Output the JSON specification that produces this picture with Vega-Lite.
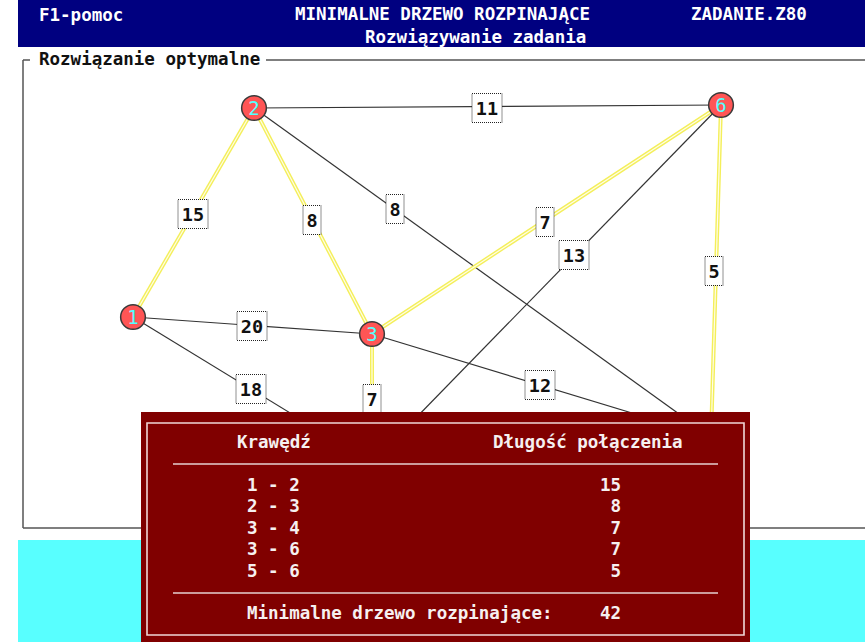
{
  "$schema": "https://vega.github.io/schema/vega-lite/v6.json",
  "width": 865,
  "height": 642,
  "autosize": "none",
  "padding": 0,
  "background": "white",
  "config": {"view": {"stroke": null}},
  "datasets": {
    "header": [{"x": 18, "x2": 865, "y": 0, "y2": 47}],
    "frame": [
      {"x": 23, "y": 60, "x2": 23, "y2": 528},
      {"x": 23, "y": 528, "x2": 865, "y2": 528},
      {"x": 23, "y": 60, "x2": 30, "y2": 60},
      {"x": 266, "y": 60, "x2": 865, "y2": 60}
    ],
    "edges": [
      {"a": 1, "b": 2, "w": 15, "mst": true, "x": 133, "y": 317, "x2": 254, "y2": 108, "lx": 193, "ly": 214},
      {"a": 1, "b": 3, "w": 20, "mst": false, "x": 133, "y": 317, "x2": 372, "y2": 334, "lx": 252, "ly": 326},
      {"a": 1, "b": 4, "w": 18, "mst": false, "x": 133, "y": 317, "x2": 372, "y2": 463, "lx": 251, "ly": 389},
      {"a": 2, "b": 3, "w": 8, "mst": true, "x": 254, "y": 108, "x2": 372, "y2": 334, "lx": 312, "ly": 220},
      {"a": 2, "b": 6, "w": 11, "mst": false, "x": 254, "y": 108, "x2": 721, "y2": 105, "lx": 487, "ly": 108},
      {"a": 2, "b": 5, "w": 8, "mst": false, "x": 254, "y": 108, "x2": 711, "y2": 437, "lx": 395, "ly": 209},
      {"a": 3, "b": 6, "w": 7, "mst": true, "x": 372, "y": 334, "x2": 721, "y2": 105, "lx": 545, "ly": 222},
      {"a": 3, "b": 4, "w": 7, "mst": true, "x": 372, "y": 334, "x2": 372, "y2": 463, "lx": 372, "ly": 399},
      {"a": 3, "b": 5, "w": 12, "mst": false, "x": 372, "y": 334, "x2": 711, "y2": 437, "lx": 540, "ly": 385},
      {"a": 4, "b": 6, "w": 13, "mst": false, "x": 372, "y": 463, "x2": 721, "y2": 105, "lx": 574, "ly": 255},
      {"a": 5, "b": 6, "w": 5, "mst": true, "x": 711, "y": 437, "x2": 721, "y2": 105, "lx": 714, "ly": 271}
    ],
    "nodes": [
      {"id": "1", "x": 133, "y": 317},
      {"id": "2", "x": 254, "y": 108},
      {"id": "3", "x": 372, "y": 334},
      {"id": "4", "x": 372, "y": 463},
      {"id": "5", "x": 711, "y": 437},
      {"id": "6", "x": 721, "y": 105}
    ],
    "cyan": [{"x": 18, "x2": 865, "y": 540, "y2": 642}],
    "dialog": [{"x": 141, "x2": 750, "y": 412, "y2": 642}],
    "dialogBorder": [{"x": 147, "x2": 744, "y": 423, "y2": 635}],
    "dialogRules": [
      {"x": 173, "x2": 718, "y": 464, "y2": 464},
      {"x": 173, "x2": 718, "y": 593, "y2": 593}
    ],
    "headerText": [
      {"x": 39, "y": 16, "t": "F1-pomoc"},
      {"x": 295, "y": 15, "t": "MINIMALNE DRZEWO ROZPINAJĄCE"},
      {"x": 691, "y": 15, "t": "ZADANIE.Z80"},
      {"x": 365, "y": 38, "t": "Rozwiązywanie zadania"}
    ],
    "frameTitle": [{"x": 39, "y": 60, "t": "Rozwiązanie optymalne"}],
    "dialogLeft": [
      {"x": 237, "y": 443, "t": "Krawędź"},
      {"x": 493, "y": 443, "t": "Długość połączenia"},
      {"x": 247, "y": 486, "t": "1 - 2"},
      {"x": 247, "y": 507, "t": "2 - 3"},
      {"x": 247, "y": 529, "t": "3 - 4"},
      {"x": 247, "y": 550, "t": "3 - 6"},
      {"x": 247, "y": 572, "t": "5 - 6"},
      {"x": 247, "y": 614, "t": "Minimalne drzewo rozpinające:"}
    ],
    "dialogRight": [
      {"x": 621, "y": 486, "t": "15"},
      {"x": 621, "y": 507, "t": "8"},
      {"x": 621, "y": 529, "t": "7"},
      {"x": 621, "y": 550, "t": "7"},
      {"x": 621, "y": 572, "t": "5"},
      {"x": 621, "y": 614, "t": "42"}
    ]
  },
  "layer": [
    {
      "data": {"name": "header"},
      "mark": {"type": "rect", "fill": "#000080"},
      "encoding": {
        "x": {"field": "x", "type": "quantitative", "scale": {"domain": [0, 865], "nice": false, "zero": false}, "axis": null},
        "x2": {"field": "x2"},
        "y": {"field": "y", "type": "quantitative", "scale": {"domain": [0, 642], "nice": false, "zero": false, "reverse": true}, "axis": null},
        "y2": {"field": "y2"}
      }
    },
    {
      "data": {"name": "frame"},
      "mark": {"type": "rule", "color": "#555555", "strokeWidth": 1.5},
      "encoding": {
        "x": {"field": "x", "type": "quantitative", "axis": null},
        "x2": {"field": "x2"},
        "y": {"field": "y", "type": "quantitative", "axis": null},
        "y2": {"field": "y2"}
      }
    },
    {
      "data": {"name": "edges"},
      "transform": [{"filter": "!datum.mst"}],
      "mark": {"type": "rule", "color": "#333333", "strokeWidth": 1.2},
      "encoding": {
        "x": {"field": "x", "type": "quantitative", "axis": null},
        "x2": {"field": "x2"},
        "y": {"field": "y", "type": "quantitative", "axis": null},
        "y2": {"field": "y2"}
      }
    },
    {
      "data": {"name": "edges"},
      "transform": [{"filter": "datum.mst"}],
      "mark": {"type": "rule", "color": "#f4ef5a", "strokeWidth": 4},
      "encoding": {
        "x": {"field": "x", "type": "quantitative", "axis": null},
        "x2": {"field": "x2"},
        "y": {"field": "y", "type": "quantitative", "axis": null},
        "y2": {"field": "y2"}
      }
    },
    {
      "data": {"name": "edges"},
      "transform": [{"filter": "datum.mst"}],
      "mark": {"type": "rule", "color": "#fffde6", "strokeWidth": 1.2},
      "encoding": {
        "x": {"field": "x", "type": "quantitative", "axis": null},
        "x2": {"field": "x2"},
        "y": {"field": "y", "type": "quantitative", "axis": null},
        "y2": {"field": "y2"}
      }
    },
    {
      "data": {"name": "edges"},
      "transform": [{"filter": "datum.w >= 10"}],
      "mark": {"type": "rect", "width": 30, "height": 29, "fill": "white", "stroke": "#222222", "strokeWidth": 1, "strokeDash": [1, 1]},
      "encoding": {
        "x": {"field": "lx", "type": "quantitative", "axis": null},
        "y": {"field": "ly", "type": "quantitative", "axis": null}
      }
    },
    {
      "data": {"name": "edges"},
      "transform": [{"filter": "datum.w < 10"}],
      "mark": {"type": "rect", "width": 18, "height": 29, "fill": "white", "stroke": "#222222", "strokeWidth": 1, "strokeDash": [1, 1]},
      "encoding": {
        "x": {"field": "lx", "type": "quantitative", "axis": null},
        "y": {"field": "ly", "type": "quantitative", "axis": null}
      }
    },
    {
      "data": {"name": "edges"},
      "mark": {"type": "text", "font": "DejaVu Sans Mono", "fontSize": 18.5, "fontWeight": "bold", "color": "#111111", "align": "center", "baseline": "middle", "dy": 1},
      "encoding": {
        "x": {"field": "lx", "type": "quantitative", "axis": null},
        "y": {"field": "ly", "type": "quantitative", "axis": null},
        "text": {"field": "w"}
      }
    },
    {
      "data": {"name": "nodes"},
      "mark": {"type": "point", "shape": "circle", "filled": true, "size": 610, "fill": "#ff5555", "stroke": "#3a3a3a", "strokeWidth": 1.5, "opacity": 1},
      "encoding": {
        "x": {"field": "x", "type": "quantitative", "axis": null},
        "y": {"field": "y", "type": "quantitative", "axis": null}
      }
    },
    {
      "data": {"name": "nodes"},
      "mark": {"type": "text", "font": "DejaVu Sans Mono", "fontSize": 19, "color": "#55ffff", "align": "center", "baseline": "middle", "dy": 1},
      "encoding": {
        "x": {"field": "x", "type": "quantitative", "axis": null},
        "y": {"field": "y", "type": "quantitative", "axis": null},
        "text": {"field": "id"}
      }
    },
    {
      "data": {"name": "cyan"},
      "mark": {"type": "rect", "fill": "#58ffff"},
      "encoding": {
        "x": {"field": "x", "type": "quantitative", "axis": null},
        "x2": {"field": "x2"},
        "y": {"field": "y", "type": "quantitative", "axis": null},
        "y2": {"field": "y2"}
      }
    },
    {
      "data": {"name": "dialog"},
      "mark": {"type": "rect", "fill": "#800000"},
      "encoding": {
        "x": {"field": "x", "type": "quantitative", "axis": null},
        "x2": {"field": "x2"},
        "y": {"field": "y", "type": "quantitative", "axis": null},
        "y2": {"field": "y2"}
      }
    },
    {
      "data": {"name": "dialogBorder"},
      "mark": {"type": "rect", "fill": null, "fillOpacity": 0, "stroke": "#f0d6d6", "strokeWidth": 1.6},
      "encoding": {
        "x": {"field": "x", "type": "quantitative", "axis": null},
        "x2": {"field": "x2"},
        "y": {"field": "y", "type": "quantitative", "axis": null},
        "y2": {"field": "y2"}
      }
    },
    {
      "data": {"name": "dialogRules"},
      "mark": {"type": "rule", "color": "#e6d0d0", "strokeWidth": 1.6},
      "encoding": {
        "x": {"field": "x", "type": "quantitative", "axis": null},
        "x2": {"field": "x2"},
        "y": {"field": "y", "type": "quantitative", "axis": null},
        "y2": {"field": "y2"}
      }
    },
    {
      "data": {"name": "headerText"},
      "mark": {"type": "text", "font": "DejaVu Sans Mono", "fontSize": 17.5, "fontWeight": "bold", "color": "#ffffff", "align": "left", "baseline": "middle"},
      "encoding": {
        "x": {"field": "x", "type": "quantitative", "axis": null},
        "y": {"field": "y", "type": "quantitative", "axis": null},
        "text": {"field": "t"}
      }
    },
    {
      "data": {"name": "frameTitle"},
      "mark": {"type": "text", "font": "DejaVu Sans Mono", "fontSize": 17.5, "fontWeight": "bold", "color": "#111111", "align": "left", "baseline": "middle"},
      "encoding": {
        "x": {"field": "x", "type": "quantitative", "axis": null},
        "y": {"field": "y", "type": "quantitative", "axis": null},
        "text": {"field": "t"}
      }
    },
    {
      "data": {"name": "dialogLeft"},
      "mark": {"type": "text", "font": "DejaVu Sans Mono", "fontSize": 17.5, "fontWeight": "bold", "color": "#f6f0f0", "align": "left", "baseline": "middle"},
      "encoding": {
        "x": {"field": "x", "type": "quantitative", "axis": null},
        "y": {"field": "y", "type": "quantitative", "axis": null},
        "text": {"field": "t"}
      }
    },
    {
      "data": {"name": "dialogRight"},
      "mark": {"type": "text", "font": "DejaVu Sans Mono", "fontSize": 17.5, "fontWeight": "bold", "color": "#f6f0f0", "align": "right", "baseline": "middle"},
      "encoding": {
        "x": {"field": "x", "type": "quantitative", "axis": null},
        "y": {"field": "y", "type": "quantitative", "axis": null},
        "text": {"field": "t"}
      }
    }
  ]
}
